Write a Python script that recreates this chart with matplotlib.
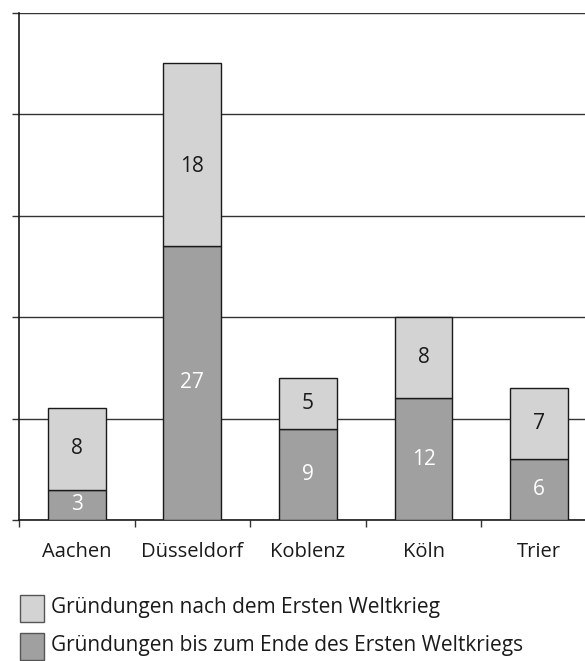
import numpy as np
import matplotlib
matplotlib.use("Agg")
import matplotlib.pyplot as plt
from matplotlib.patches import Rectangle

plt.rcParams['font.family'] = ['Open Sans', 'DejaVu Sans']

# data
staedte = ["Aachen", "Düsseldorf", "Koblenz", "Köln", "Trier"]
bis_ende_ww1 = [3, 27, 9, 12, 6]
nach_ww1 = [8, 18, 5, 8, 7]
legende = ["Gründungen nach dem Ersten Weltkrieg",
           "Gründungen bis zum Ende des Ersten Weltkriegs"]

dunkel = "#a0a0a0"
hell = "#d3d3d3"

fig = plt.figure(figsize=(5.85, 6.61), dpi=100)
ax = fig.add_axes([19 / 585, 141 / 661, 1 - 19 / 585, (520 - 12.5) / 661])

x = np.arange(len(staedte))
ax.bar(x, bis_ende_ww1, width=0.5, color=dunkel, edgecolor="#1a1a1a", linewidth=1, zorder=3)
ax.bar(x, nach_ww1, width=0.5, bottom=bis_ende_ww1, color=hell, edgecolor="#1a1a1a",
       linewidth=1, zorder=3)

for i in range(len(staedte)):
    ax.text(x[i], bis_ende_ww1[i] / 2, str(bis_ende_ww1[i]), ha="center", va="center",
            color="white", fontsize=15, zorder=4)
    # the tall upper label sits a little below the middle in the original
    y_hell = bis_ende_ww1[i] + nach_ww1[i] / 2
    if nach_ww1[i] > 10:
        y_hell -= 1.2
    ax.text(x[i], y_hell, str(nach_ww1[i]), ha="center", va="center",
            color="#1a1a1a", fontsize=15, zorder=4)

ax.set_xlim(-0.5, -0.5 + (585 - 19) / 115.6)
ax.set_ylim(0, 50)
ax.set_yticks([0, 10, 20, 30, 40, 50])
ax.set_yticklabels([])
ax.yaxis.grid(True, color="#333333", linewidth=1, zorder=0)
ax.tick_params(axis="y", length=5, width=1, color="#333333")

ax.set_xticks(x)
ax.set_xticklabels(staedte, fontsize=14.5, color="#1a1a1a")
ax.set_xticks(np.arange(-0.5, 4.5, 1), minor=True)
ax.tick_params(axis="x", which="major", length=0, pad=16)
ax.tick_params(axis="x", which="minor", length=5, width=1, color="#333333")

for s in ["top", "right"]:
    ax.spines[s].set_visible(False)
for s in ["left", "bottom"]:
    ax.spines[s].set_color("#1a1a1a")
    ax.spines[s].set_linewidth(1.2)

# legend drawn by hand
farben = [hell, dunkel]
ys = [595, 633]
for farbe, y0, txt in zip(farben, ys, legende):
    fig.patches.append(Rectangle((20 / 585, 1 - (y0 + 27) / 661), 24 / 585, 27 / 661,
                                 transform=fig.transFigure, facecolor=farbe,
                                 edgecolor="#555555", linewidth=1))
    fig.text(51 / 585, 1 - (y0 + 13) / 661, txt, ha="left", va="center",
             fontsize=15, color="#1a1a1a")

fig.savefig("out.png", dpi=100)
